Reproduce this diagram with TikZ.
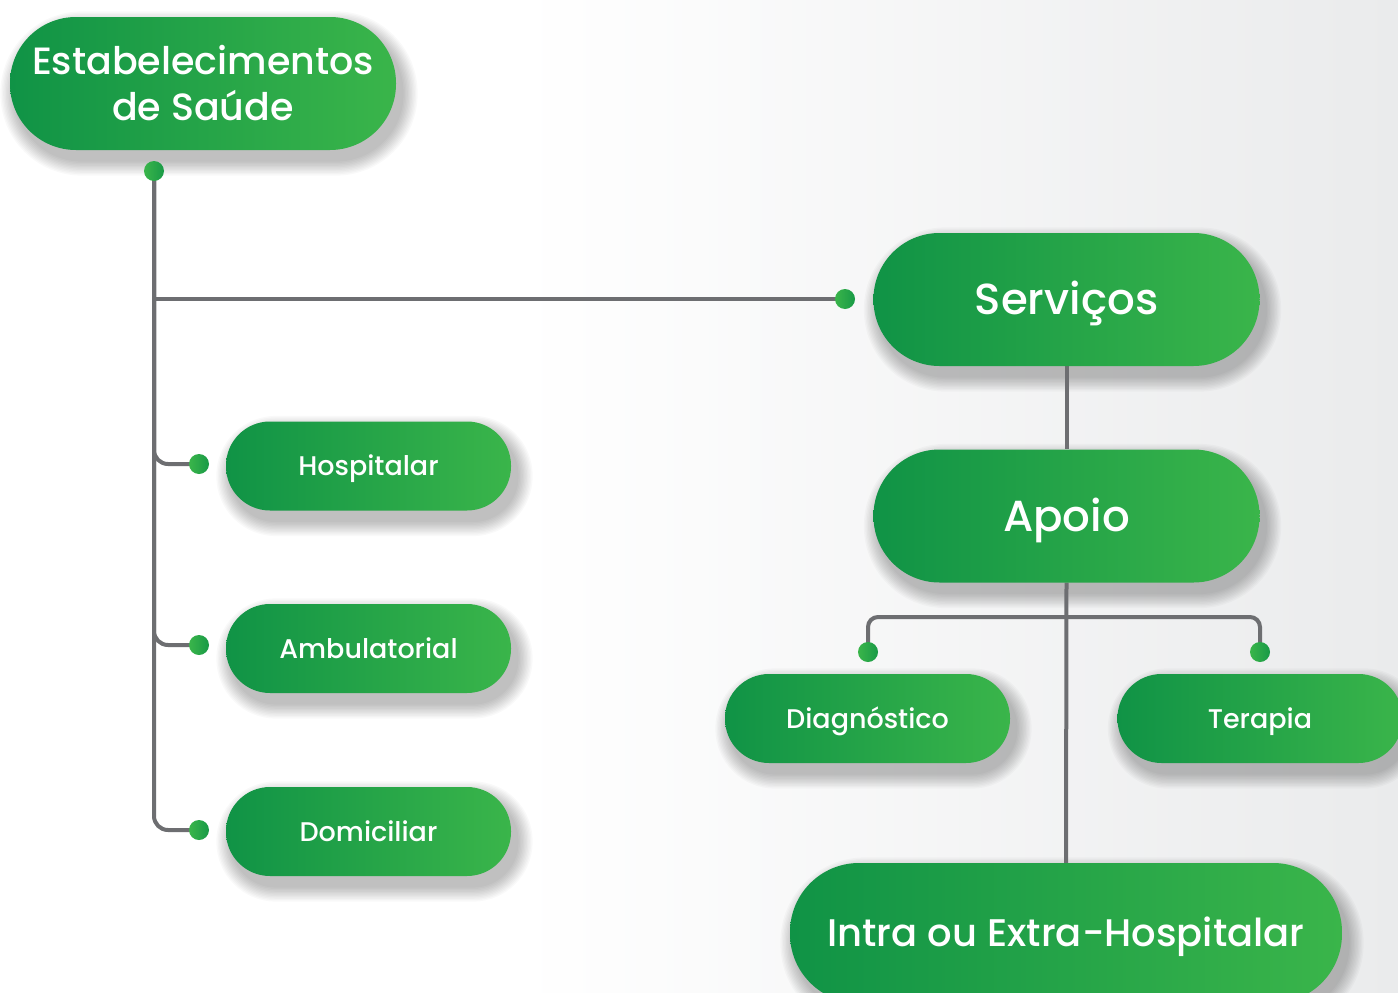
\documentclass[tikz,border=0pt]{standalone}
\usepackage{fontspec}
\setmainfont{Poppins}
\newfontfamily\popmed{Poppins Medium}
\usetikzlibrary{calc}
\definecolor{gdark}{HTML}{109346}
\definecolor{glight}{HTML}{3AB54A}
\definecolor{lgray}{HTML}{6D6E71}
\definecolor{bggray}{HTML}{EAEBEC}
\pgfdeclarelayer{back}
\pgfdeclarelayer{shad}
\pgfdeclarelayer{lines}
\pgfsetlayers{back,shad,lines,main}
\tikzset{
  pillbase/.style={rectangle, left color=gdark, middle color=gdark!88!glight, right color=glight,
    text=white, inner sep=0pt, align=center},
  bigpill/.style={pillbase, minimum width=386pt, minimum height=133pt, rounded corners=66pt,
    font=\popmed\fontsize{43.5}{46}\selectfont, text height=30.5pt, text depth=0pt},
  smallpill/.style={pillbase, minimum width=285pt, minimum height=89pt, rounded corners=44pt,
    font=\popmed\fontsize{27}{30}\selectfont, text height=19pt, text depth=0pt},
  gdot/.style={circle, minimum size=20pt, inner sep=0pt, left color=glight, right color=gdark!80!glight},
  conn/.style={draw=lgray, line width=4pt},
  shadowlayer/.style={fill=black, opacity=0.022},
}
\newcommand\pshadow[2]{%
  \foreach \i in {1,...,11}{%
    \pgfmathsetmacro\e{\i*1.4}%
    \pgfmathsetmacro\rr{#2+\e}%
    \fill[shadowlayer, rounded corners=\rr pt]
      ($(#1.north west)+(6-\e,10-\e)$) rectangle ($(#1.south east)+(6+\e,10+\e)$);
  }%
}
\begin{document}
\begin{tikzpicture}[x=1pt,y=-1pt]
\useasboundingbox (0,0) rectangle (1398,993);
\clip (0,0) rectangle (1398,993);
\begin{pgfonlayer}{back}
  \fill[white] (0,0) rectangle (1398,993);
  \shade[left color=white, right color=bggray] (520,0) rectangle (1398,993);
\end{pgfonlayer}

% pills
\node[pillbase, minimum width=386pt, minimum height=133pt, rounded corners=66pt,
  font=\popmed\fontsize{38}{46}\selectfont] (est) at (203,83.5) {Estabelecimentos\\de Saúde};
\node[bigpill] (serv) at (1066.5,299.5) {Serviços};
\node[bigpill] (apoio) at (1066.5,516) {Apoio};
\node[smallpill] (hosp) at (368.5,466) {Hospitalar};
\node[smallpill] (amb) at (368.5,648.5) {Ambulatorial};
\node[smallpill] (dom) at (368.5,831.5) {Domiciliar};
\node[smallpill] (diag) at (867.5,718.5) {Diagnóstico};
\node[smallpill] (ter) at (1260,718.5) {Terapia};
\node[bigpill, minimum width=552pt, minimum height=140pt, rounded corners=69pt,
  font=\popmed\fontsize{38.5}{46}\selectfont, text height=27pt] (intra) at (1066,933) {Intra ou Extra-Hospitalar};

\begin{pgfonlayer}{shad}
  \pshadow{est}{66}
  \pshadow{serv}{66}
  \pshadow{apoio}{66}
  \pshadow{hosp}{44}
  \pshadow{amb}{44}
  \pshadow{dom}{44}
  \pshadow{diag}{44}
  \pshadow{ter}{44}
  \pshadow{intra}{69}
\end{pgfonlayer}

% dots
\node[gdot] (d0) at (154,171) {};
\node[gdot] (d1) at (199,464) {};
\node[gdot] (d2) at (199,645) {};
\node[gdot] (d3) at (199,830) {};
\node[gdot] (ds) at (845,299) {};
\node[gdot] (dg) at (868,652) {};
\node[gdot] (dt) at (1260,652) {};
\coordinate (bar) at (1067,617);

\begin{pgfonlayer}{lines}
  \draw[conn, rounded corners=14pt] (d0.center) |- (d3.center);
  \draw[conn, rounded corners=14pt] (d0.center) |- (d2.center);
  \draw[conn, rounded corners=14pt] (d0.center) |- (d1.center);
  \draw[conn] (d0.center) |- (ds.center);
  \draw[conn] (serv.south) -- (apoio.north);
  \draw[conn] (apoio.south) -- (intra.north);
  \draw[conn, rounded corners=10pt] (dg.center) |- (bar) -| (dt.center);
\end{pgfonlayer}
\end{tikzpicture}
\end{document}
